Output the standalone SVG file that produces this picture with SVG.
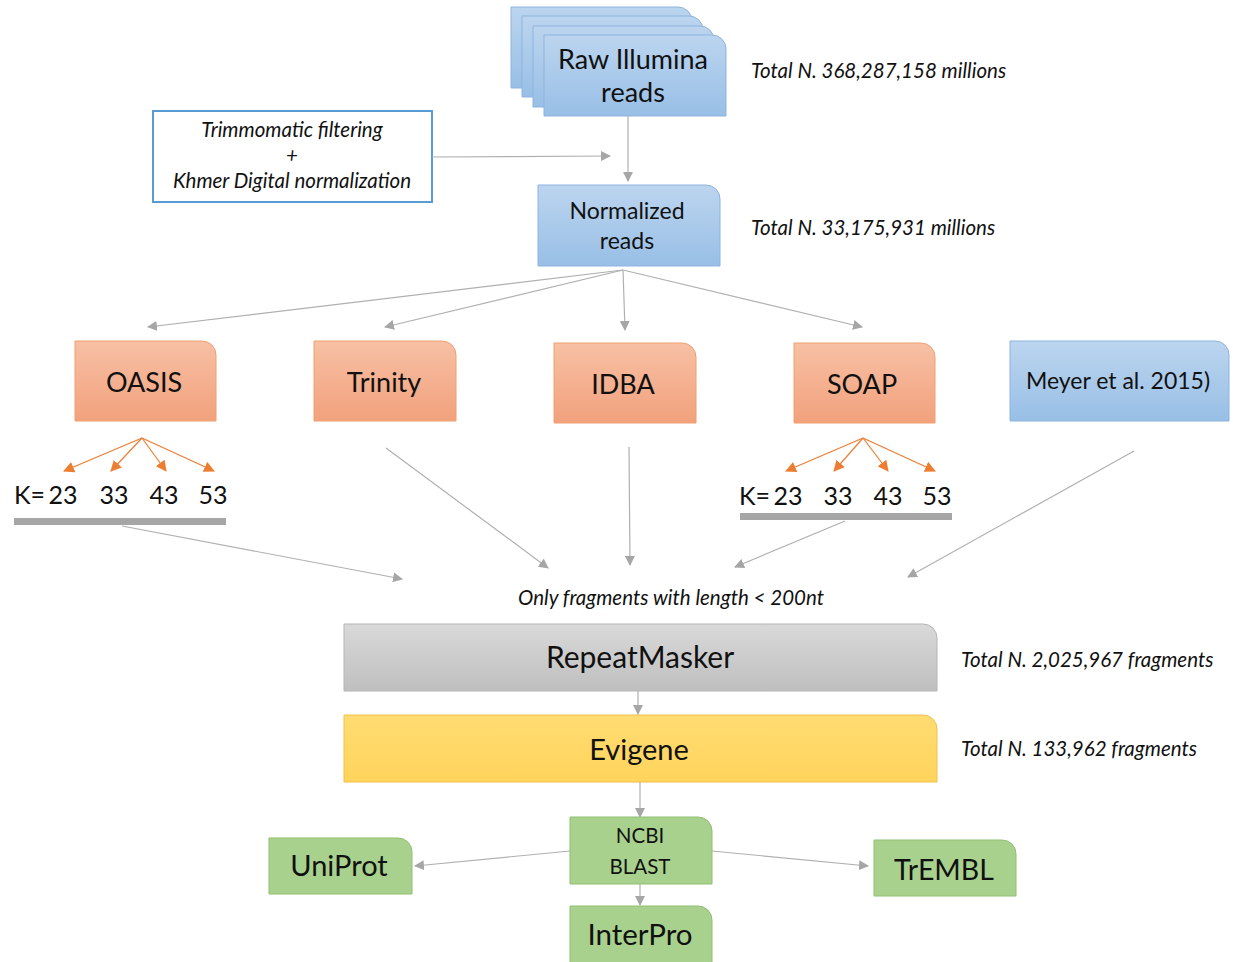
<svg xmlns="http://www.w3.org/2000/svg" width="1233" height="962" viewBox="0 0 1233 962">
<defs>
<linearGradient id="gBlue" x1="0" y1="0" x2="0" y2="1"><stop offset="0" stop-color="#bcd5ef"/><stop offset="1" stop-color="#98bfe6"/></linearGradient>
<linearGradient id="gOrange" x1="0" y1="0" x2="0" y2="1"><stop offset="0" stop-color="#f7c0a4"/><stop offset="1" stop-color="#f2a17c"/></linearGradient>
<linearGradient id="gGray" x1="0" y1="0" x2="0" y2="1"><stop offset="0" stop-color="#d9d9d9"/><stop offset="1" stop-color="#bfbfbf"/></linearGradient>
<linearGradient id="gYellow" x1="0" y1="0" x2="0" y2="1"><stop offset="0" stop-color="#ffdc72"/><stop offset="1" stop-color="#ffd45c"/></linearGradient>
<marker id="ag" markerWidth="10" markerHeight="10" refX="9" refY="5" orient="auto" markerUnits="userSpaceOnUse"><path d="M0,0 L10,5 L0,10 Z" fill="#a6a6a6"/></marker>
<marker id="ao" markerWidth="11" markerHeight="11" refX="10" refY="5.5" orient="auto" markerUnits="userSpaceOnUse"><path d="M0,0 L11,5.5 L0,11 Z" fill="#ed7d31"/></marker>
<style>
.t{font-family:Lato,"Open Sans","Liberation Sans",sans-serif;fill:#111;text-anchor:middle}
.i{font-family:Lato,"Open Sans","Liberation Sans",sans-serif;font-style:italic;fill:#111;font-size:20.5px}
.blue{fill:url(#gBlue);stroke:#8fb3dd;stroke-width:1}
.orange{fill:url(#gOrange);stroke:#f0a070;stroke-width:1}
.gray{fill:url(#gGray);stroke:#b5b5b5;stroke-width:1}
.yellow{fill:url(#gYellow);stroke:#f2c04a;stroke-width:1}
.green{fill:#a9d18e;stroke:#8fbf70;stroke-width:1}
.c{stroke:#b0b0b0;stroke-width:1.2;fill:none;marker-end:url(#ag)}
.co{stroke:#ed7d31;stroke-width:1.2;fill:none;marker-end:url(#ao)}
.k{font-family:Lato,"Open Sans","Liberation Sans",sans-serif;fill:#111;font-size:25px}
.kn{font-family:Lato,"Open Sans","Liberation Sans",sans-serif;fill:#111;font-size:25px;text-anchor:middle}
</style>
</defs>
<rect width="1233" height="962" fill="#fff"/>

<g id="raw">
<path class="blue" d="M511,7 H678 A14,14 0 0 1 692,21 V88 H511 Z"/>
<path class="blue" d="M522,16 H689 A14,14 0 0 1 703,30 V97 H522 Z"/>
<path class="blue" d="M533,26 H700 A14,14 0 0 1 714,40 V107 H533 Z"/>
<path class="blue" d="M544,35 H712 A14,14 0 0 1 726,49 V116 H544 Z"/>
<text class="t" x="633" y="69" font-size="27">Raw Illumina</text>
<text class="t" x="633" y="102" font-size="27">reads</text>
</g>

<g id="trim">
<rect x="153" y="111" width="279" height="91" fill="#fff" stroke="#5b9bd5" stroke-width="2"/>
<text class="i" x="292" y="137" text-anchor="middle">Trimmomatic filtering</text>
<text class="i" x="292" y="163" text-anchor="middle">+</text>
<text class="i" x="292" y="188" text-anchor="middle">Khmer Digital normalization</text>
</g>

<g id="norm">
<path class="blue" d="M538,185 H706 A14,14 0 0 1 720,199 V266 H538 Z"/>
<text class="t" x="627" y="219" font-size="23">Normalized</text>
<text class="t" x="627" y="249" font-size="23">reads</text>
</g>

<g id="labels">
<text class="i" x="751" y="78">Total N. 368,287,158 millions</text>
<text class="i" x="751" y="235">Total N. 33,175,931 millions</text>
<text class="i" x="671" y="605" text-anchor="middle">Only fragments with length &lt; 200nt</text>
<text class="i" x="961" y="667">Total N. 2,025,967 fragments</text>
<text class="i" x="961" y="756">Total N. 133,962 fragments</text>
</g>

<g id="oasis">
<path class="orange" d="M75,341 H202 A14,14 0 0 1 216,355 V421 H75 Z"/>
<text class="t" x="144" y="392" font-size="27">OASIS</text>
</g>
<g id="trinity">
<path class="orange" d="M314,341 H442 A14,14 0 0 1 456,355 V421 H314 Z"/>
<text class="t" x="384" y="392" font-size="27">Trinity</text>
</g>
<g id="idba">
<path class="orange" d="M554,343 H682 A14,14 0 0 1 696,357 V423 H554 Z"/>
<text class="t" x="623" y="394" font-size="27">IDBA</text>
</g>
<g id="soap">
<path class="orange" d="M794,343 H921 A14,14 0 0 1 935,357 V423 H794 Z"/>
<text class="t" x="862" y="394" font-size="27">SOAP</text>
</g>
<g id="meyer">
<path class="blue" d="M1010,341 H1215 A14,14 0 0 1 1229,355 V421 H1010 Z"/>
<text class="t" x="1118" y="389" font-size="23">Meyer et al. 2015)</text>
</g>

<g id="kOasis">
<text class="k" x="14" y="504">K=</text>
<text class="kn" x="63" y="504">23</text>
<text class="kn" x="114" y="504">33</text>
<text class="kn" x="164" y="504">43</text>
<text class="kn" x="213" y="504">53</text>
<rect x="14" y="518" width="212" height="7" fill="#a6a6a6"/>
</g>
<g id="kSoap">
<text class="k" x="739" y="505">K=</text>
<text class="kn" x="788" y="505">23</text>
<text class="kn" x="838" y="505">33</text>
<text class="kn" x="888" y="505">43</text>
<text class="kn" x="937" y="505">53</text>
<rect x="740" y="513" width="212" height="7" fill="#a6a6a6"/>
</g>

<g id="repeat">
<path class="gray" d="M344,624 H923 A14,14 0 0 1 937,638 V691 H344 Z"/>
<text class="t" x="640" y="668" font-size="30">RepeatMasker</text>
</g>
<g id="evigene">
<path class="yellow" d="M344,715 H923 A14,14 0 0 1 937,729 V782 H344 Z"/>
<text class="t" x="639" y="760" font-size="29">Evigene</text>
</g>
<g id="blast">
<path class="green" d="M570,817 H698 A14,14 0 0 1 712,831 V884 H570 Z"/>
<text class="t" x="640" y="843" font-size="20.5">NCBI</text>
<text class="t" x="640" y="874" font-size="20.5">BLAST</text>
</g>
<g id="uniprot">
<path class="green" d="M269,838 H398 A14,14 0 0 1 412,852 V894 H269 Z"/>
<text class="t" x="339" y="876" font-size="29">UniProt</text>
</g>
<g id="trembl">
<path class="green" d="M874,840 H1002 A14,14 0 0 1 1016,854 V896 H874 Z"/>
<text class="t" x="944" y="880" font-size="28.5">TrEMBL</text>
</g>
<g id="interpro">
<path class="green" d="M570,906 H698 A14,14 0 0 1 712,920 V966 H570 Z"/>
<text class="t" x="640" y="945" font-size="29.5">InterPro</text>
</g>

<g id="connectors">
<line class="c" x1="432" y1="157" x2="610" y2="156"/>
<line class="c" x1="628" y1="116" x2="628" y2="181"/>
<line class="c" x1="623" y1="270" x2="148" y2="327"/>
<line class="c" x1="623" y1="270" x2="385" y2="327"/>
<line class="c" x1="623" y1="270" x2="625" y2="330"/>
<line class="c" x1="623" y1="270" x2="862" y2="327"/>
<line class="co" x1="142" y1="438" x2="64" y2="471"/>
<line class="co" x1="142" y1="438" x2="111" y2="471"/>
<line class="co" x1="142" y1="438" x2="166" y2="471"/>
<line class="co" x1="142" y1="438" x2="214" y2="471"/>
<line class="co" x1="863" y1="438" x2="786" y2="471"/>
<line class="co" x1="863" y1="438" x2="834" y2="471"/>
<line class="co" x1="863" y1="438" x2="888" y2="471"/>
<line class="co" x1="863" y1="438" x2="935" y2="471"/>
<line class="c" x1="122" y1="526" x2="402" y2="579"/>
<line class="c" x1="386" y1="448" x2="548" y2="568"/>
<line class="c" x1="629" y1="447" x2="630" y2="565"/>
<line class="c" x1="845" y1="521" x2="735" y2="567"/>
<line class="c" x1="1134" y1="451" x2="908" y2="577"/>
<line class="c" x1="638" y1="691" x2="638" y2="714"/>
<line class="c" x1="640" y1="782" x2="640" y2="817"/>
<line class="c" x1="570" y1="851" x2="415" y2="866"/>
<line class="c" x1="712" y1="851" x2="868" y2="866"/>
<line class="c" x1="640" y1="884" x2="640" y2="905"/>
</g>
</svg>
